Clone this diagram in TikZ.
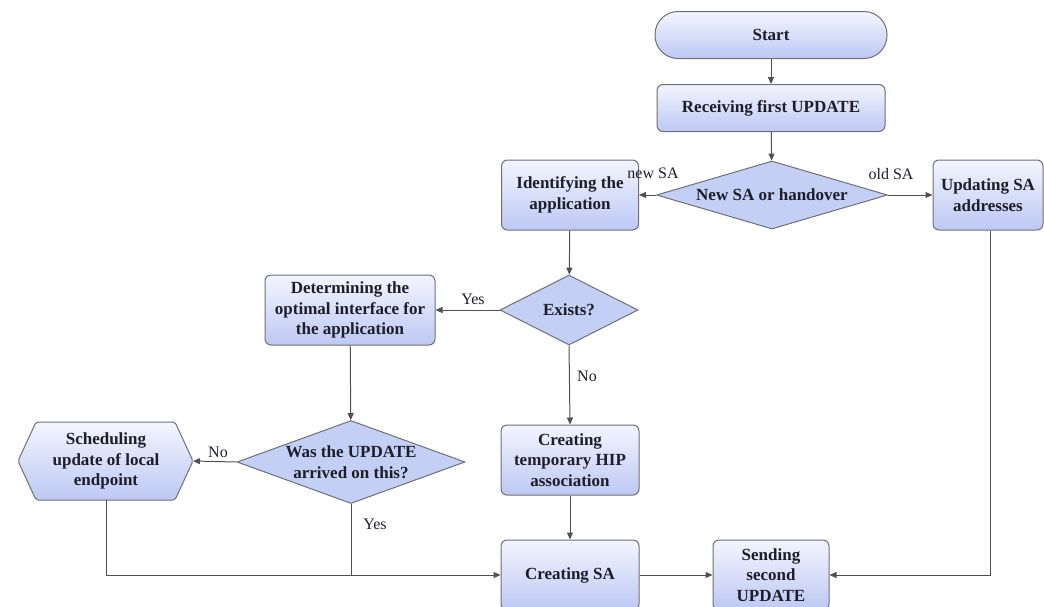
\documentclass[tikz,border=0pt]{standalone}
\usepackage{fontspec}
\setmainfont{Liberation Serif}
\usetikzlibrary{shapes.geometric,arrows.meta}
\definecolor{boxtop}{HTML}{F3F5FE}
\definecolor{boxbot}{HTML}{BDC8F4}
\definecolor{diafill}{HTML}{C4CFF5}
\definecolor{edgegray}{HTML}{6F6F78}
\definecolor{txtcol}{HTML}{1E1E2A}
\definecolor{linecol}{HTML}{505050}
\tikzset{
  box/.style={draw=edgegray, line width=1pt, rounded corners=6pt, top color=boxtop, bottom color=boxbot,
    align=center, font=\fontsize{17}{20.5}\selectfont\bfseries, text=txtcol, inner sep=0pt},
  dia/.style={draw=edgegray, line width=1pt, diamond, fill=diafill, inner sep=0pt},
  txt/.style={align=center, font=\fontsize{17}{20.5}\selectfont\bfseries, text=txtcol, inner sep=0pt},
  lab/.style={font=\fontsize{16}{19}\selectfont, text=txtcol, inner sep=0pt},
  conn/.style={draw=linecol, line width=1pt},
  arr/.style={conn, -{Triangle[length=7pt,width=6pt]}},
}
\begin{document}
\begin{tikzpicture}[x=1pt,y=-1pt]
\useasboundingbox (0,0) rectangle (1044,606);
% nodes
\node[box, rounded corners=23pt, minimum width=232pt, minimum height=47pt] (start) at (771,35) {Start};
\node[box, minimum width=228pt, minimum height=47pt] (recv) at (771,108) {Receiving first UPDATE};
\node[dia, minimum width=231pt, minimum height=68pt] (newsa) at (772,195) {};
\node[txt] at (newsa) {New SA or handover};
\node[box, minimum width=137pt, minimum height=70pt] (ident) at (570,195) {Identifying the\\application};
\node[box, minimum width=110pt, minimum height=70pt] (upd) at (988,195) {Updating SA\\addresses};
\node[dia, minimum width=138pt, minimum height=70pt] (exists) at (569,310) {};
\node[txt] at (exists) {Exists?};
\node[box, minimum width=170pt, minimum height=70pt] (determ) at (350,310) {Determining the\\optimal interface for\\the application};
\node[dia, minimum width=228pt, minimum height=83pt] (was) at (351,462) {};
\node[txt] at (was) {Was the UPDATE\\arrived on this?};
\coordinate (sched) at (106,461);
\coordinate (schedbot) at (106,500);
\coordinate (schedright) at (193,461);
\path[draw=edgegray, line width=1pt, top color=boxtop, bottom color=boxbot, rounded corners=2pt]
  (18,461) -- (36,422) -- (175,422) -- (193,461) -- (175,500) -- (36,500) -- cycle;
\node[txt] (schedtxt) at (sched) {Scheduling\\update of local\\endpoint};
\node[box, minimum width=138pt, minimum height=70pt] (hip) at (570,460) {Creating\\temporary HIP\\association};
\node[box, minimum width=138pt, minimum height=70pt] (csa) at (570,575) {Creating SA};
\node[box, minimum width=116pt, minimum height=70pt] (send) at (771,575) {Sending\\second\\UPDATE};
\coordinate (j2) at (351,575);
\coordinate (j3) at (990,575);
% connectors
\draw[arr] (start) -- (recv);
\draw[arr] (recv) -- (newsa);
\draw[arr] (newsa.west) -- (ident.east);
\draw[arr] (newsa.east) -- (upd.west);
\draw[arr] (ident) -- (exists);
\draw[arr] (exists.west) -- (determ.east);
\draw[arr] (exists.south) -- (hip.north);
\draw[arr] (determ) -- (was);
\draw[arr] (was.west) -- (schedright);
\draw[arr] (hip) -- (csa);
\draw[arr] (schedbot) |- (csa.west);
\draw[conn] (was.south) -- (j2);
\draw[arr] (csa) -- (send);
\draw[arr] (upd.south -| j3) -- (j3) -- (send.east);
% labels
\node[lab] at (653,173) {new SA};
\node[lab] at (891,174) {old SA};
\node[lab] at (473,299) {Yes};
\node[lab] at (587,376) {No};
\node[lab] at (218,452) {No};
\node[lab] at (375,524) {Yes};
\end{tikzpicture}
\end{document}
